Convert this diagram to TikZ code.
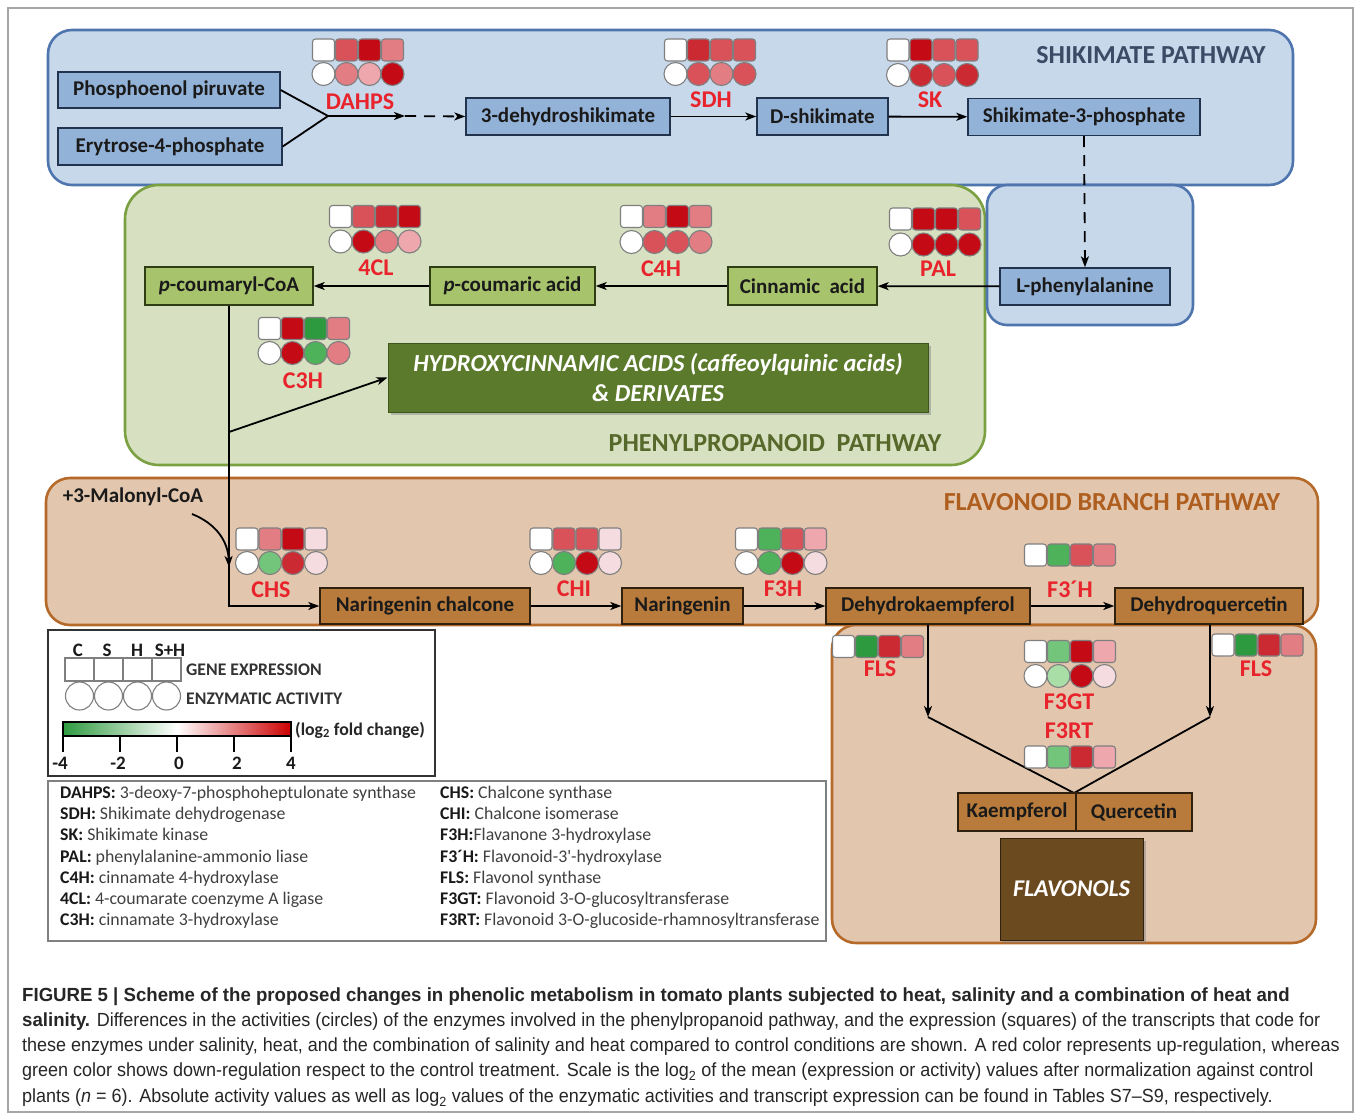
\documentclass[tikz,border=0pt]{standalone}
\usepackage{fontspec}
\setmainfont{Carlito}
\newfontfamily\capfont[FakeStretch=0.947,BoldFeatures={FakeStretch=0.98}]{Liberation Sans}
\usetikzlibrary{arrows.meta,shadows}
\definecolor{shbg}{HTML}{C8D8EB}
\definecolor{shborder}{HTML}{4F75AE}
\definecolor{shnode}{HTML}{93B2D8}
\definecolor{shdraw}{HTML}{22344D}
\definecolor{shtitle}{HTML}{3B4B66}
\definecolor{grbg}{HTML}{D7E1C1}
\definecolor{grborder}{HTML}{7AA042}
\definecolor{grnode}{HTML}{A7C36B}
\definecolor{grdraw}{HTML}{2F3D15}
\definecolor{grtitle}{HTML}{56682A}
\definecolor{hydro}{HTML}{5B7A2B}
\definecolor{flbg}{HTML}{E2C6AE}
\definecolor{flborder}{HTML}{B56A2A}
\definecolor{flnode}{HTML}{B87B3B}
\definecolor{fldraw}{HTML}{30200E}
\definecolor{fltitle}{HTML}{AE5E1E}
\definecolor{flavo}{HTML}{6B4A1F}
\definecolor{enzred}{HTML}{E8232B}
\definecolor{rA}{HTML}{F4DCE1}
\definecolor{rB}{HTML}{EDA7AD}
\definecolor{rC}{HTML}{E27D84}
\definecolor{rD}{HTML}{D9525A}
\definecolor{rE}{HTML}{CC2A33}
\definecolor{rF}{HTML}{C40A14}
\definecolor{gA}{HTML}{A9DEA6}
\definecolor{gB}{HTML}{74C57C}
\definecolor{gC}{HTML}{4DB25A}
\definecolor{gD}{HTML}{2E9A3F}
\definecolor{glyphline}{HTML}{7F7F7F}
\definecolor{nodetext}{HTML}{1A1A1A}
\newcommand\sqrow[6]{%
  \foreach \c [count=\i from 0] in {#3,#4,#5,#6}{%
    \draw[glyph,fill=\c,rounded corners=3pt] ({#1-45.5+23*\i},{#2-11}) rectangle ++(22,22);
  }}
\newcommand\cirrow[6]{%
  \foreach \c [count=\i from 0] in {#3,#4,#5,#6}{%
    \draw[glyph,fill=\c] ({#1-34.5+23*\i},{#2}) circle[radius=11.5];
  }}
\begin{document}
\begin{tikzpicture}[x=1pt,y=-1pt,
  glyph/.style={draw=glyphline,line width=1.1pt},
  region/.style={line width=2.6pt},
  title/.style={font=\bfseries\fontsize{26}{28}\selectfont,inner sep=0pt},
  mnode/.style={line width=1.4pt,inner sep=0pt,minimum height=37,text=nodetext,font=\bfseries\fontsize{21}{23}\selectfont},
  shk/.style={mnode,draw=shdraw,fill=shnode},
  grn/.style={mnode,draw=grdraw,fill=grnode},
  brn/.style={mnode,draw=fldraw,fill=flnode},
  arr/.style={line width=1.8pt,-{Stealth[length=11pt,width=8pt,inset=3pt]}},
  conn/.style={line width=1.8pt},
  enz/.style={text=enzred,font=\bfseries\fontsize{24}{25}\selectfont,inner sep=0pt},
  capline/.style={anchor=west,inner sep=0pt,font=\capfont\fontsize{19}{21}\selectfont,text=black!85}
]
\useasboundingbox (0,0) rectangle (1360,1116);
\fill[white] (0,0) rectangle (1360,1116);
\draw[black!35,line width=1.2pt] (8,8) rectangle (1353,1112);

% ---------- regions ----------
\draw[region,fill=shbg,draw=shborder,rounded corners=24] (48,30) rectangle (1293,185);
\draw[region,fill=grbg,draw=grborder,rounded corners=34] (125,185) rectangle (985,465);
\draw[region,fill=shbg,draw=shborder,rounded corners=20] (987,185) rectangle (1193,325);
\draw[region,fill=flbg,draw=flborder,rounded corners=24] (46,478) rectangle (1318,625);
\draw[region,fill=flbg,draw=flborder,rounded corners=24] (832,625) rectangle (1316,943);

\node[title,text=shtitle] (tshk) at (1151,55) {SHIKIMATE PATHWAY};
\node[title,text=grtitle] (tgr) at (775,443) {PHENYLPROPANOID\ \ PATHWAY};
\node[title,text=fltitle] (tfl) at (1112,502) {FLAVONOID BRANCH PATHWAY};

% ---------- metabolites ----------
\node[shk,minimum width=222,minimum height=36] (pep) at (169,90) {Phosphoenol piruvate};
\node[shk,minimum width=224] (e4p) at (170,146.5) {Erytrose-4-phosphate};
\node[shk,minimum width=204] (dhs) at (568,116.5) {3-dehydroshikimate};
\node[shk,minimum width=131] (dsh) at (822.5,116.5) {D-shikimate};
\node[shk,minimum width=232] (s3p) at (1084,117) {Shikimate-3-phosphate};
\node[shk,minimum width=170] (lphe) at (1085,286.5) {L-phenylalanine};
\node[grn,minimum width=149,minimum height=38] (cin) at (802.5,286) {Cinnamic\ \ acid};
\node[grn,minimum width=165,minimum height=38] (pca) at (512.5,286) {\textit{p}-coumaric acid};
\node[grn,minimum width=168,minimum height=38] (pcoa) at (229,286) {\textit{p}-coumaryl-CoA};
\node[draw=hydro!70!black,fill=hydro,line width=1pt,minimum width=540,minimum height=69,inner sep=0pt,
      text=white,align=center,font=\bfseries\itshape\fontsize{24.5}{30}\selectfont,
      drop shadow={shadow xshift=3pt,shadow yshift=-3pt,opacity=0.45}] (hyd) at (658,377.5)
      {HYDROXYCINNAMIC ACIDS (caffeoylquinic acids)\\ \& DERIVATES};
\node[brn,minimum width=210,minimum height=36] (nch) at (425,606) {Naringenin chalcone};
\node[brn,minimum width=121,minimum height=36] (nar) at (682.5,606) {Naringenin};
\node[brn,minimum width=204,minimum height=36] (dhk) at (928,606) {Dehydrokaempferol};
\node[brn,minimum width=188,minimum height=36] (dhq) at (1209,606) {Dehydroquercetin};
\node[draw=fldraw,fill=flavo,line width=1pt,minimum width=143,minimum height=102,inner sep=0pt,
      text=white,font=\bfseries\itshape\fontsize{24}{26}\selectfont,
      drop shadow={shadow xshift=3pt,shadow yshift=-3pt,opacity=0.45}] (flv) at (1071.5,889) {FLAVONOLS};
\node[inner sep=0pt,text=nodetext,font=\bfseries\fontsize{21}{23}\selectfont] (mal) at (133,497) {+3-Malonyl-CoA};

% ---------- connectors ----------
\coordinate (J) at (328,116);
\coordinate (M) at (405,116);
\draw[conn] (pep.east) -- (J);
\draw[conn] (e4p.east) -- (J);
\draw[arr] (J) -- (M);
\draw[arr,dash pattern=on 11pt off 8pt] (M) -- (dhs.west);
\draw[arr] (dhs) -- (dsh);
\draw[arr] (dsh) -- (s3p);
\draw[arr,dash pattern=on 11pt off 8pt] (s3p.south) -- (lphe.north);
\draw[arr] (lphe) -- (cin);
\draw[arr] (cin) -- (pca);
\draw[arr] (pca) -- (pcoa);
\draw[arr] (pcoa.south) |- (nch.west);
\coordinate (B) at (229,432);
\draw[arr] (B) -- (hyd.west);
\coordinate (malS) at (192,514);
\coordinate (malE) at (229,567);
\draw[arr] (malS) .. controls (217,524) and (228,542) .. (malE);
\draw[arr] (nch) -- (nar);
\draw[arr] (nar) -- (dhk);
\draw[arr] (dhk) -- (dhq);
\coordinate (K1) at (928,717);
\coordinate (K2) at (1210,717);
\coordinate (KQ) at (1074,793);
\draw[arr] (dhk.south) -- (K1);
\draw[arr] ([xshift=1pt]dhq.south) -- (K2);
\draw[conn] (K1) -- (KQ);
\draw[conn] (K2) -- (KQ);
\node[brn,minimum width=118,minimum height=38] (kae) at (1017,812) {Kaempferol};
\node[brn,minimum width=116,minimum height=38] (que) at (1134,812) {Quercetin};

% ---------- enzyme glyphs ----------
\sqrow{358}{50}{white}{rD}{rF}{rC}
\cirrow{358}{74}{white}{rC}{rB}{rF}
\node[enz] (eDAHPS) at (360,102) {DAHPS};
\sqrow{710}{50}{white}{rE}{rD}{rD}
\cirrow{710}{74}{white}{rD}{rC}{rD}
\node[enz] (eSDH) at (711,100) {SDH};
\sqrow{932.5}{50}{white}{rF}{rD}{rD}
\cirrow{932.5}{75}{white}{rE}{rD}{rE}
\node[enz] (eSK) at (930,100) {SK};
\sqrow{375}{216.5}{white}{rD}{rE}{rF}
\cirrow{375}{241.5}{white}{rF}{rC}{rB}
\node[enz] (e4CL) at (376,268) {4CL};
\sqrow{666}{216.5}{white}{rC}{rF}{rC}
\cirrow{666}{242}{white}{rD}{rD}{rC}
\node[enz] (eC4H) at (661,269) {C4H};
\sqrow{935}{219}{white}{rF}{rF}{rD}
\cirrow{935}{244.5}{white}{rF}{rF}{rF}
\node[enz] (ePAL) at (938,269) {PAL};
\sqrow{304}{328.5}{white}{rF}{gD}{rC}
\cirrow{304}{353}{white}{rF}{gC}{rC}
\node[enz] (eC3H) at (303,381) {C3H};
\sqrow{281.5}{539}{white}{rC}{rF}{rA}
\cirrow{281.5}{563}{white}{gB}{rE}{rA}
\node[enz] (eCHS) at (271,590) {CHS};
\sqrow{575.5}{539}{white}{rD}{rD}{rA}
\cirrow{575.5}{563}{white}{gC}{rF}{rA}
\node[enz] (eCHI) at (574,589) {CHI};
\sqrow{781}{539}{white}{gC}{rD}{rB}
\cirrow{781}{563}{white}{gC}{rF}{rA}
\node[enz] (eF3H) at (783,589) {F3H};
\sqrow{1070}{555}{white}{gC}{rD}{rC}
\node[enz] (eF3pH) at (1070,589) {F3´H};
\sqrow{878}{646.5}{white}{gD}{rE}{rC}
\node[enz] (eFLS1) at (880,669) {FLS};
\sqrow{1070}{651.5}{white}{gB}{rF}{rB}
\cirrow{1070}{676}{white}{gA}{rF}{rA}
\node[enz] (eF3GT) at (1069,702) {F3GT};
\node[enz] (eF3RT) at (1069,731) {F3RT};
\sqrow{1070}{757}{white}{gB}{rE}{rB}
\sqrow{1257.5}{645}{white}{gD}{rE}{rC}
\node[enz] (eFLS2) at (1256,669) {FLS};

% ---------- legend 1 ----------
\draw[fill=white,draw=black!80,line width=1.4pt] (48,630) rectangle (435,776);
\foreach \lx/\lt in {78/C,107/S,137/H,170/S+H}
  \node[inner sep=0pt,font=\bfseries\fontsize{19}{20}\selectfont,text=nodetext] at (\lx,650) {\lt};
\foreach \i in {0,1,2,3}{
  \draw[glyph] ({65+29*\i},658) rectangle ++(29,23);
  \draw[glyph] ({79.5+29*\i},696) circle[radius=14];
}
\node[anchor=west,inner sep=0pt,font=\bfseries\fontsize{17.7}{19}\selectfont,text=black!80] (lgGE) at (186,670) {GENE EXPRESSION};
\node[anchor=west,inner sep=0pt,font=\bfseries\fontsize{17.7}{19}\selectfont,text=black!80] (lgEA) at (186,699) {ENZYMATIC ACTIVITY};
\shade[left color=gD,right color=red!80!black,middle color=white] (63,722) rectangle (291,736);
\draw[black,line width=1.3pt] (63,722) rectangle (291,736);
\foreach \tx in {63,120,177,234,291}
  \draw[black,line width=1.6pt] (\tx,736) -- (\tx,752);
\foreach \tx/\tl in {60/-4,118/-2,179/0,237/2,291/4}
  \node[inner sep=0pt,font=\bfseries\fontsize{19}{20}\selectfont,text=nodetext] at (\tx,763) {\tl};
\node[anchor=west,inner sep=0pt,font=\bfseries\fontsize{17.8}{19}\selectfont,text=black!85] (lglog) at (295,730) {(log\textsubscript{2} fold change)};

% ---------- legend 2 ----------
\draw[fill=white,draw=black!50,line width=1.2pt] (48,781) rectangle (826,941);
\node[anchor=north west,inner sep=0pt,align=left,font=\fontsize{17.8}{21.2}\selectfont,text=black!75] (lgA) at (60,786)
 {\textbf{\color{black!90}DAHPS:} 3-deoxy-7-phosphoheptulonate synthase\\
  \textbf{\color{black!90}SDH:} Shikimate dehydrogenase\\
  \textbf{\color{black!90}SK:} Shikimate kinase\\
  \textbf{\color{black!90}PAL:} phenylalanine-ammonio liase\\
  \textbf{\color{black!90}C4H:} cinnamate 4-hydroxylase\\
  \textbf{\color{black!90}4CL:} 4-coumarate coenzyme A ligase\\
  \textbf{\color{black!90}C3H:} cinnamate 3-hydroxylase};
\node[anchor=north west,inner sep=0pt,align=left,font=\fontsize{17.8}{21.2}\selectfont,text=black!75] (lgB) at (440,786)
 {\textbf{\color{black!90}CHS:} Chalcone synthase\\
  \textbf{\color{black!90}CHI:} Chalcone isomerase\\
  \textbf{\color{black!90}F3H:}Flavanone 3-hydroxylase\\
  \textbf{\color{black!90}F3´H:} Flavonoid-3\textquotesingle-hydroxylase\\
  \textbf{\color{black!90}FLS:} Flavonol synthase\\
  \textbf{\color{black!90}F3GT:} Flavonoid 3-O-glucosyltransferase\\
  \textbf{\color{black!90}F3RT:} Flavonoid 3-O-glucoside-rhamnosyltransferase};

% ---------- caption ----------
\node[capline] (cap1) at (22,997) {\bfseries FIGURE 5 | Scheme of the proposed changes in phenolic metabolism in tomato plants subjected to heat, salinity and a combination of heat and};
\node[capline] (cap2) at (22,1022) {\textbf{salinity.} Differences in the activities (circles) of the enzymes involved in the phenylpropanoid pathway, and the expression (squares) of the transcripts that code for};
\node[capline] (cap3) at (22,1047) {these enzymes under salinity, heat, and the combination of salinity and heat compared to control conditions are shown. A red color represents up-regulation, whereas};
\node[capline] (cap4) at (22,1072) {green color shows down-regulation respect to the control treatment. Scale is the log\textsubscript{2} of the mean (expression or activity) values after normalization against control};
\node[capline] (cap5) at (22,1098) {plants (\textit{n} = 6). Absolute activity values as well as log\textsubscript{2} values of the enzymatic activities and transcript expression can be found in Tables S7–S9, respectively.};
\end{tikzpicture}
\end{document}
